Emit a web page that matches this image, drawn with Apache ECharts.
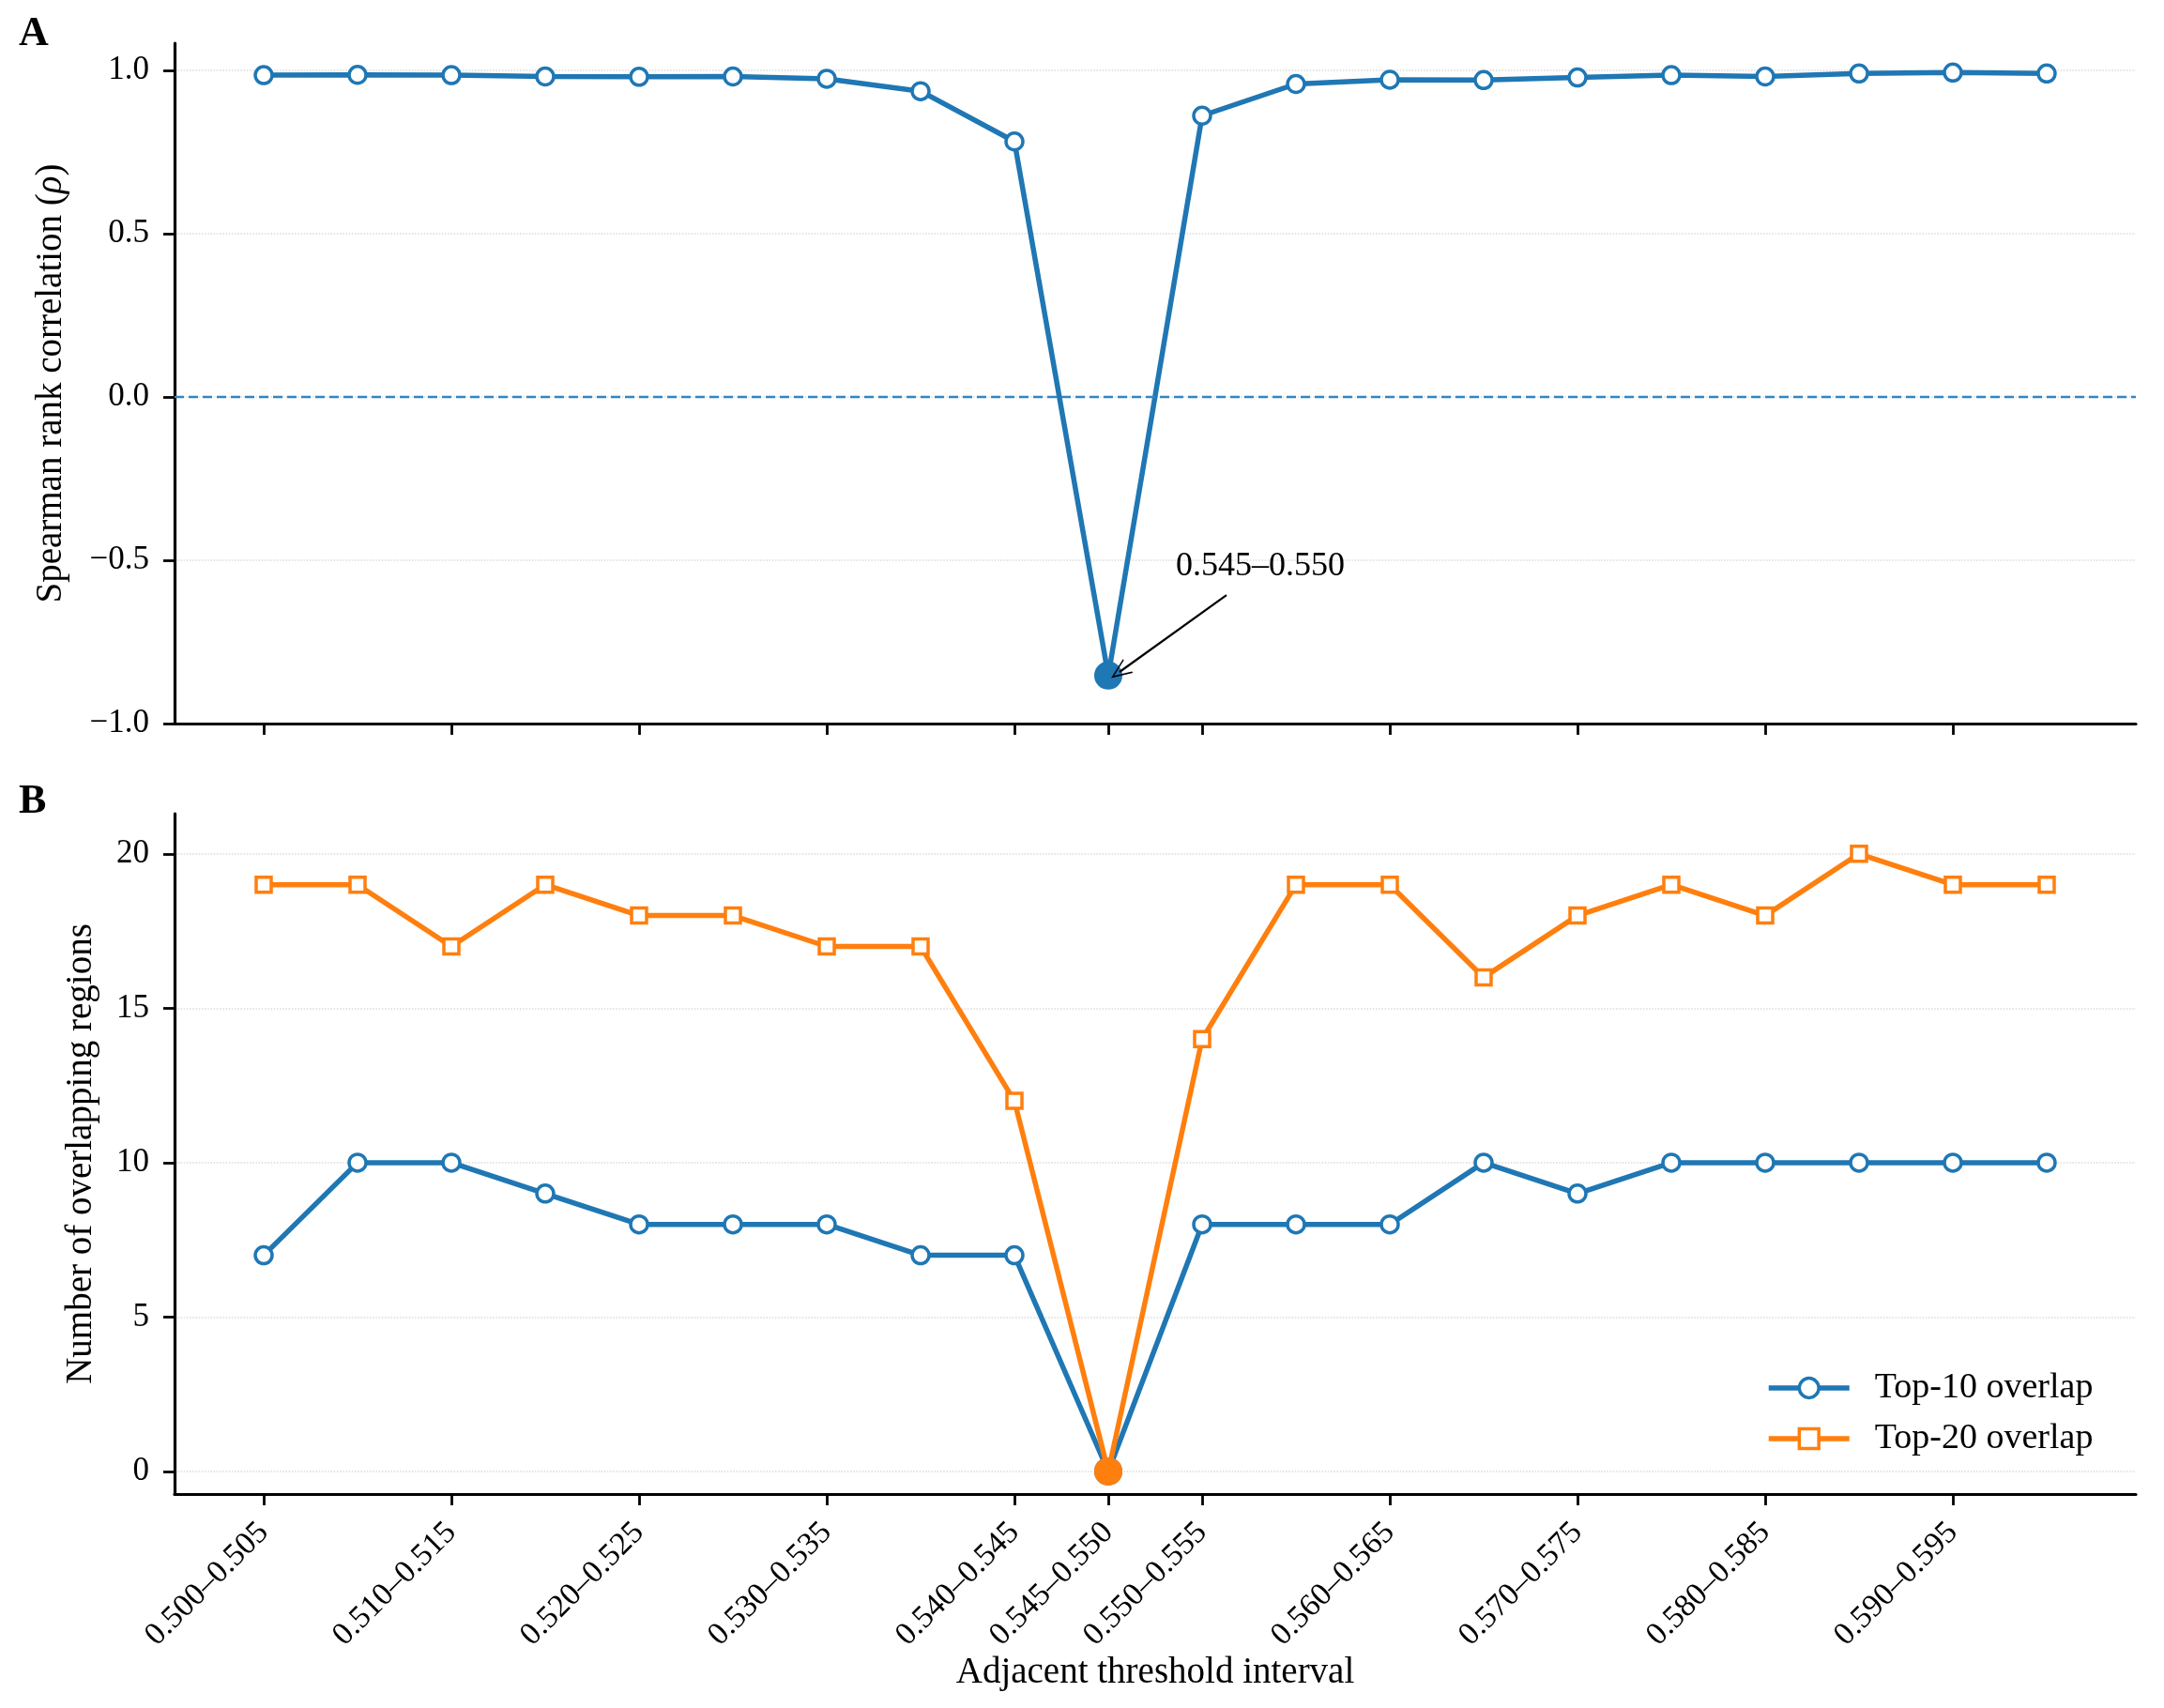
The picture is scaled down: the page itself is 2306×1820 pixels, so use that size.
<!DOCTYPE html>
<html>
<head>
<meta charset="utf-8">
<script src="https://cdn.jsdelivr.net/npm/echarts@6/dist/echarts.min.js"></script>
<style>
html,body{margin:0;padding:0;background:#fff;}
#chart{width:2306px;height:1820px;}
</style>
</head>
<body>
<div id="chart"></div>
<script>
// ---- data ----
const categories = [
  "0.500–0.505","0.505–0.510","0.510–0.515","0.515–0.520","0.520–0.525",
  "0.525–0.530","0.530–0.535","0.535–0.540","0.540–0.545","0.545–0.550",
  "0.550–0.555","0.555–0.560","0.560–0.565","0.565–0.570","0.570–0.575",
  "0.575–0.580","0.580–0.585","0.585–0.590","0.590–0.595","0.595–0.600"
];
const spearmanRho = [0.985,0.986,0.985,0.981,0.980,0.981,0.974,0.936,0.782,-0.853,
                     0.861,0.958,0.971,0.970,0.978,0.985,0.981,0.990,0.993,0.990];
const top10Overlap = [7,10,10,9,8,8,8,7,7,0,8,8,8,10,9,10,10,10,10,10];
const top20Overlap = [19,19,17,19,18,18,17,17,12,0,14,19,19,16,18,19,18,20,19,19];
const xTickIndices = [0,2,4,6,8,9,10,12,14,16,18];
const rhoTicks = [-1.0,-0.5,0.0,0.5,1.0];
const countTicks = [0,5,10,15,20];
const highlightLabel = "0.545–0.550";

// ---- styling ----
const BLUE = '#1f77b4', ORANGE = '#ff7f0e';
const FONT = 'Liberation Serif';
const hiIdx = categories.indexOf(highlightLabel);

function buildData(vals, color) {
  return vals.map((v, i) => i === hiIdx
    ? {value: [i, v], symbol: 'circle', symbolSize: 30,
       itemStyle: {color: color, borderColor: color, borderWidth: 0}}
    : [i, v]);
}
function fmtRho(v) {
  return (v < 0 ? '\u2212' : '') + Math.abs(v).toFixed(1);
}

const chart = echarts.init(document.getElementById('chart'), null, {renderer: 'canvas'});

const axisLineStyle = {show: true, onZero: false, lineStyle: {color: '#000', width: 3.2}};
const tickStyle = {show: true, length: 12, lineStyle: {color: '#000', width: 2.8}};
const splitStyle = {show: true, lineStyle: {color: '#dcdcdc', type: 'dotted', width: 1.6}};

const chevron = 'path://M0,20 L10,0 L20,20 L18.2,20 L10,3.6 L1.8,20 Z';

const option = {
  animation: false,
  backgroundColor: '#fff',
  textStyle: {fontFamily: FONT},
  graphic: [
    {type: 'text', left: 20, top: 15, style: {text: 'A', font: 'bold 44px "Liberation Serif"', fill: '#000'}},
    {type: 'text', left: 20, top: 833, style: {text: 'B', font: 'bold 44px "Liberation Serif"', fill: '#000'}}
  ],
  grid: [
    {left: 186, top: 46, width: 2090, height: 725},
    {left: 186, top: 867, width: 2090, height: 725}
  ],
  legend: {
    data: ['Top-10 overlap', 'Top-20 overlap'],
    orient: 'vertical',
    left: 1877, top: 1455,
    itemWidth: 86, itemHeight: 26, itemGap: 16,
    lineStyle: {width: 5.5},
    itemStyle: {borderWidth: 3.5},
    textStyle: {fontFamily: FONT, fontSize: 38, color: '#000', padding: [0, 0, 0, 22]}
  },
  xAxis: [
    {
      type: 'value', gridIndex: 0, min: -0.95, max: 19.95,
      axisLine: axisLineStyle,
      axisTick: Object.assign({customValues: xTickIndices}, tickStyle),
      axisLabel: {show: false, customValues: xTickIndices},
      splitLine: {show: false}
    },
    {
      type: 'value', gridIndex: 1, min: -0.95, max: 19.95,
      axisLine: axisLineStyle,
      axisTick: Object.assign({customValues: xTickIndices}, tickStyle),
      axisLabel: {
        customValues: xTickIndices, rotate: 45, margin: 36,
        fontFamily: FONT, fontSize: 34, color: '#000',
        formatter: v => categories[Math.round(v)]
      },
      splitLine: {show: false},
      name: 'Adjacent threshold interval', nameLocation: 'middle', nameGap: 171,
      nameTextStyle: {fontFamily: FONT, fontSize: 39, color: '#000'}
    }
  ],
  yAxis: [
    {
      type: 'value', gridIndex: 0, min: -1.0, max: 1.083,
      axisLine: axisLineStyle,
      axisTick: Object.assign({customValues: rhoTicks}, tickStyle),
      axisLabel: {customValues: rhoTicks, fontFamily: FONT, fontSize: 35, color: '#000', margin: 27, formatter: fmtRho},
      splitLine: splitStyle,
      name: 'Spearman rank correlation ({i|ρ})', nameLocation: 'middle', nameGap: 112,
      nameTextStyle: {fontFamily: FONT, fontSize: 39, color: '#000',
        rich: {i: {fontFamily: FONT, fontSize: 39, fontStyle: 'italic', color: '#000'}}}
    },
    {
      type: 'value', gridIndex: 1, min: -0.73, max: 21.3,
      axisLine: axisLineStyle,
      axisTick: Object.assign({customValues: countTicks}, tickStyle),
      axisLabel: {customValues: countTicks, fontFamily: FONT, fontSize: 35, color: '#000', margin: 27},
      splitLine: splitStyle,
      name: 'Number of overlapping regions', nameLocation: 'middle', nameGap: 80,
      nameTextStyle: {fontFamily: FONT, fontSize: 39, color: '#000'}
    }
  ],
  series: [
    {
      name: 'Spearman', type: 'line', xAxisIndex: 0, yAxisIndex: 0,
      data: buildData(spearmanRho, BLUE),
      symbol: 'circle', symbolSize: 18, showAllSymbol: true,
      lineStyle: {color: BLUE, width: 5.5},
      itemStyle: {color: '#fff', borderColor: BLUE, borderWidth: 3.5},
      z: 3,
      markLine: {
        silent: true, symbol: ['none', 'none'],
        label: {show: false},
        data: [
          {yAxis: 0, lineStyle: {color: '#3385c2', type: [10, 5], width: 2.4}},
          [
            {coord: [10.26, -0.607], symbol: 'none', lineStyle: {color: '#000', width: 2.2, type: 'solid'}},
            {coord: [9.12, -0.842], symbol: chevron, symbolSize: [18, 22]}
          ]
        ]
      },
      markPoint: {
        silent: true,
        data: [{
          coord: [9.72, -0.52], symbol: 'circle', symbolSize: 0,
          label: {show: true, position: 'right', distance: 0, formatter: highlightLabel,
                  fontFamily: FONT, fontSize: 36, color: '#000'}
        }]
      }
    },
    {
      name: 'Top-10 overlap', type: 'line', xAxisIndex: 1, yAxisIndex: 1,
      data: buildData(top10Overlap, BLUE),
      symbol: 'circle', symbolSize: 18, showAllSymbol: true,
      lineStyle: {color: BLUE, width: 5.5},
      itemStyle: {color: '#fff', borderColor: BLUE, borderWidth: 3.5},
      z: 3
    },
    {
      name: 'Top-20 overlap', type: 'line', xAxisIndex: 1, yAxisIndex: 1,
      data: buildData(top20Overlap, ORANGE),
      symbol: 'rect', symbolSize: 16, showAllSymbol: true,
      lineStyle: {color: ORANGE, width: 5.5},
      itemStyle: {color: '#fff', borderColor: ORANGE, borderWidth: 3.5},
      z: 4
    }
  ]
};
chart.setOption(option);
</script>
</body>
</html>
